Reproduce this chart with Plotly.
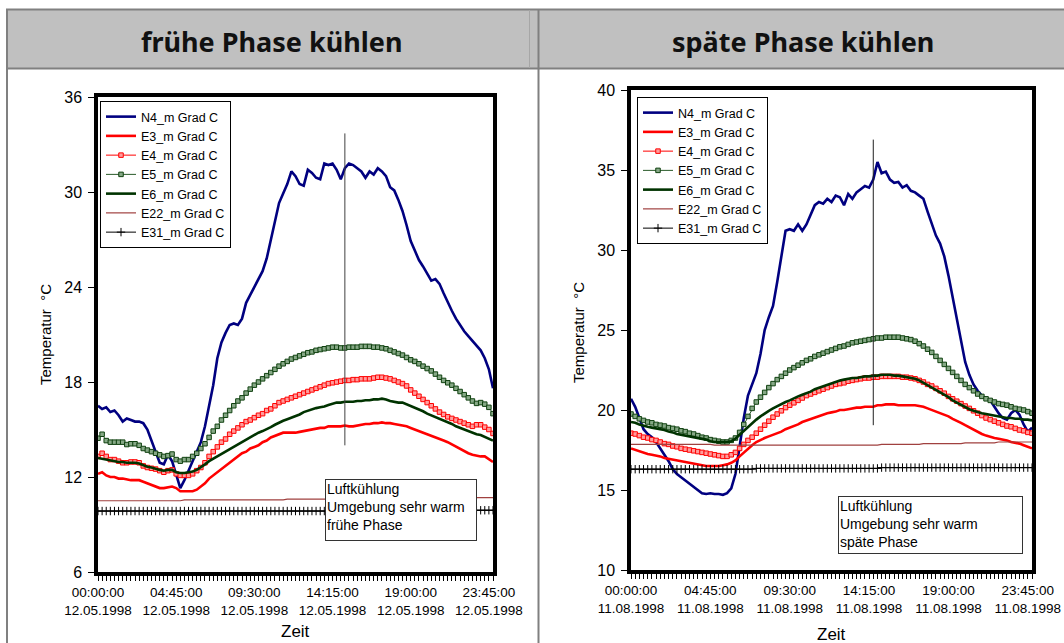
import plotly.graph_objects as go

W, H = 1064, 643

# quarter-hour steps of one day, 00:00 .. 24:00 (minutes since midnight)
minutes = [15 * i for i in range(97)]

tick_minutes = [0, 285, 570, 855, 1140, 1425]
tick_times = ["00:00:00", "04:45:00", "09:30:00", "14:15:00", "19:00:00", "23:45:00"]
date_early = "12.05.1998"
date_late = "11.08.1998"

series_names = ["N4_m Grad C", "E3_m Grad C", "E4_m Grad C", "E5_m Grad C",
                "E6_m Grad C", "E22_m Grad C", "E31_m Grad C"]

# ---- frühe Phase (12.05.1998) ----
early_N4 = [16.5, 16.3, 16.4, 16.1, 16.2, 15.9, 15.5, 15.7, 15.6, 15.5,
            15.5, 15.4, 15.0, 14.3, 13.6, 12.9, 12.8, 13.4, 13.0, 12.2,
            11.3, 11.8, 12.4, 13.0, 13.6, 14.2, 15.2, 16.5, 17.8, 19.5,
            20.5, 21.1, 21.6, 21.7, 21.6, 22.0, 23.0, 23.5, 24.0, 24.4,
            25.0, 25.8, 27.0, 28.2, 29.3, 29.9, 30.5, 31.3, 31.0, 30.5,
            30.4, 31.4, 31.2, 30.9, 30.8, 31.8, 31.7, 31.8, 31.4, 30.8,
            31.5, 31.8, 31.7, 31.5, 31.3, 30.9, 31.3, 31.1, 31.5, 31.3,
            31.0, 30.3, 30.1, 29.5, 28.8, 27.9, 26.9, 26.3, 25.7, 25.3,
            24.8, 24.4, 24.5, 24.2, 23.6, 23.0, 22.5, 22.0, 21.6, 21.2,
            20.9, 20.6, 20.3, 20.0, 19.5, 18.8, 17.6]
early_E3 = [12.2, 12.3, 12.1, 12.0, 12.0, 11.9, 11.9, 11.85, 11.8, 11.8,
            11.8, 11.7, 11.6, 11.5, 11.4, 11.3, 11.3, 11.35, 11.4, 11.3,
            11.1, 11.1, 11.1, 11.1, 11.2, 11.4, 11.6, 11.9, 12.1, 12.3,
            12.5, 12.7, 12.9, 13.1, 13.3, 13.5, 13.6, 13.8, 13.9, 14.0,
            14.2, 14.3, 14.5, 14.6, 14.7, 14.8, 14.8, 14.8, 14.8, 14.85,
            14.9, 14.95, 15.0, 15.05, 15.1, 15.1, 15.2, 15.2, 15.2, 15.2,
            15.25, 15.2, 15.2, 15.25, 15.3, 15.35, 15.35, 15.4, 15.4, 15.45,
            15.4, 15.4, 15.35, 15.3, 15.25, 15.2, 15.1, 15.0, 14.95, 14.85,
            14.75, 14.65, 14.55, 14.45, 14.3, 14.2, 14.05, 13.9, 13.75, 13.6,
            13.5, 13.4, 13.35, 13.3, 13.3, 13.15, 12.95]
early_E4 = [13.3, 13.5, 13.3, 13.1, 13.1, 13.0, 12.9, 12.9, 12.95, 12.95,
            12.9, 12.7, 12.6, 12.55, 12.5, 12.4, 12.3, 12.4, 12.45, 12.2,
            12.1, 12.1, 12.1, 12.2, 12.4, 12.6, 12.9, 13.3, 13.6, 13.9,
            14.2, 14.4, 14.7, 14.9, 15.1, 15.3, 15.5, 15.6, 15.75, 15.9,
            16.0, 16.2, 16.3, 16.5, 16.7, 16.8, 16.9, 17.0, 17.1, 17.2,
            17.3, 17.4, 17.5, 17.6, 17.7, 17.8, 17.9, 17.95, 18.0, 18.05,
            18.1, 18.1, 18.15, 18.15, 18.2, 18.2, 18.2, 18.25, 18.3, 18.3,
            18.25, 18.2, 18.1, 18.0, 17.9, 17.75, 17.5, 17.3, 17.1, 16.9,
            16.7, 16.5, 16.3, 16.1, 15.95, 15.8, 15.7, 15.6, 15.5, 15.4,
            15.3, 15.2, 15.3, 15.3, 15.15, 15.0, 14.75]
early_E5 = [14.45, 14.7, 14.3, 14.2, 14.2, 14.2, 14.2, 14.05, 14.1, 14.1,
            14.0, 13.8, 13.7, 13.6, 13.5, 13.4, 13.3, 13.35, 13.45, 13.1,
            13.0, 13.1, 13.1, 13.3, 13.5, 13.8, 14.1, 14.5, 14.9, 15.2,
            15.6, 15.9, 16.2, 16.5, 16.8, 17.0, 17.3, 17.55, 17.8, 18.0,
            18.2, 18.4, 18.6, 18.8, 19.0, 19.15, 19.3, 19.45, 19.55, 19.65,
            19.75, 19.85, 19.9, 20.0, 20.05, 20.1, 20.15, 20.2, 20.2, 20.15,
            20.15, 20.2, 20.2, 20.2, 20.25, 20.25, 20.25, 20.2, 20.2, 20.15,
            20.1, 20.0, 19.9, 19.8, 19.7, 19.55, 19.4, 19.3, 19.15, 19.0,
            18.85, 18.7, 18.5, 18.3, 18.1, 17.95, 17.8, 17.6, 17.4, 17.2,
            17.0, 16.8, 16.65, 16.7, 16.6, 16.4, 16.0]
early_E6 = [13.2, 13.15, 13.1, 13.05, 13.0, 12.95, 12.95, 12.9, 12.9, 12.9,
            12.85, 12.75, 12.65, 12.6, 12.5, 12.45, 12.4, 12.45, 12.45, 12.3,
            12.25, 12.25, 12.3, 12.35, 12.45, 12.6, 12.8, 13.0, 13.15, 13.35,
            13.5, 13.65, 13.8, 13.95, 14.1, 14.25, 14.4, 14.5, 14.65, 14.8,
            14.9, 15.0, 15.15, 15.3, 15.45, 15.55, 15.65, 15.75, 15.85, 15.95,
            16.1, 16.2, 16.3, 16.35, 16.4, 16.45, 16.55, 16.65, 16.7, 16.7,
            16.75, 16.75, 16.75, 16.8, 16.8, 16.85, 16.85, 16.9, 16.9, 16.95,
            16.9, 16.8, 16.75, 16.7, 16.7, 16.6, 16.5, 16.4, 16.3, 16.15,
            16.0, 15.9, 15.75, 15.65, 15.55, 15.45, 15.35, 15.2, 15.1, 15.0,
            14.9, 14.8, 14.7, 14.65, 14.55, 14.45, 14.3]
early_E22 = [10.5, 10.5, 10.5, 10.5, 10.5, 10.5, 10.5, 10.5, 10.5, 10.5,
             10.5, 10.5, 10.5, 10.5, 10.5, 10.5, 10.5, 10.5, 10.5, 10.5,
             10.5, 10.55, 10.55, 10.55, 10.55, 10.55, 10.55, 10.55, 10.55, 10.55,
             10.55, 10.55, 10.55, 10.55, 10.55, 10.55, 10.55, 10.55, 10.55, 10.55,
             10.55, 10.55, 10.55, 10.55, 10.55, 10.55, 10.6, 10.6, 10.6, 10.6,
             10.6, 10.6, 10.6, 10.6, 10.6, 10.6, 10.6, 10.6, 10.6, 10.6,
             10.6, 10.6, 10.6, 10.6, 10.6, 10.6, 10.6, 10.6, 10.6, 10.6,
             10.6, 10.65, 10.65, 10.65, 10.65, 10.65, 10.65, 10.65, 10.65, 10.65,
             10.65, 10.65, 10.65, 10.65, 10.65, 10.65, 10.7, 10.7, 10.7, 10.7,
             10.7, 10.7, 10.7, 10.7, 10.7, 10.7, 10.7]
early_E31 = [9.85, 9.85, 9.85, 9.85, 9.85, 9.85, 9.85, 9.85, 9.85, 9.85,
             9.85, 9.85, 9.85, 9.85, 9.85, 9.85, 9.85, 9.85, 9.85, 9.85,
             9.85, 9.85, 9.85, 9.85, 9.85, 9.85, 9.85, 9.85, 9.85, 9.85,
             9.85, 9.85, 9.85, 9.85, 9.85, 9.85, 9.85, 9.85, 9.85, 9.85,
             9.85, 9.85, 9.85, 9.85, 9.85, 9.85, 9.85, 9.85, 9.85, 9.85,
             9.85, 9.85, 9.85, 9.85, 9.85, 9.85, 9.85, 9.85, 9.85, 9.85,
             9.85, 9.85, 9.85, 9.85, 9.85, 9.85, 9.85, 9.85, 9.85, 9.85,
             9.85, 9.85, 9.85, 9.85, 9.85, 9.85, 9.85, 9.85, 9.85, 9.85,
             9.9, 9.9, 9.9, 9.9, 9.9, 9.9, 9.9, 9.9, 9.9, 9.9,
             9.9, 9.9, 9.9, 9.9, 9.9, 9.9, 9.9]

# ---- späte Phase (11.08.1998) ----
late_N4 = [20.7, 20.2, 19.5, 18.8, 18.5, 18.3, 18.0, 17.6, 17.2, 16.8,
           16.3, 16.0, 15.8, 15.6, 15.35, 15.2, 15.0, 14.8, 14.75, 14.8,
           14.75, 14.75, 14.7, 14.8, 15.1, 16.0, 17.7, 19.5, 20.9, 21.6,
           22.3, 23.5, 25.0, 25.8, 26.5, 28.0, 29.5, 31.2, 31.3, 31.2,
           31.6, 31.2, 31.6, 32.2, 32.8, 33.0, 32.9, 33.2, 33.0, 33.4,
           33.3, 32.8, 33.5, 33.2, 33.6, 33.8, 34.0, 33.9, 34.4, 35.5,
           34.8, 34.9, 34.4, 34.2, 34.25, 33.9, 34.05, 33.7, 33.6, 33.4,
           33.2, 32.4, 31.7, 30.9, 30.4, 29.6, 28.4, 27.0, 25.6, 24.3,
           23.0, 22.2, 21.6, 21.2, 20.9, 20.7, 20.6, 20.2, 19.8, 19.5,
           19.4, 19.8, 20.0, 19.7, 19.1, 18.65, 18.9]
late_E3 = [17.6, 17.5, 17.4, 17.3, 17.25, 17.2, 17.15, 17.1, 17.0, 16.95,
           16.9, 16.85, 16.8, 16.75, 16.7, 16.65, 16.6, 16.55, 16.5, 16.5,
           16.5, 16.5, 16.55, 16.6, 16.7, 16.85, 17.1, 17.35, 17.6, 17.8,
           18.0, 18.15, 18.25, 18.35, 18.45, 18.55, 18.65, 18.8, 18.9, 19.0,
           19.1, 19.25, 19.35, 19.45, 19.55, 19.65, 19.75, 19.8, 19.85, 19.9,
           20.0, 20.0, 20.05, 20.1, 20.15, 20.15, 20.2, 20.2, 20.2, 20.3,
           20.3, 20.35, 20.35, 20.35, 20.3, 20.3, 20.3, 20.3, 20.3, 20.25,
           20.2, 20.1, 20.0, 19.9, 19.85, 19.75, 19.6, 19.45, 19.35, 19.2,
           19.05, 18.9, 18.75, 18.6, 18.5, 18.4, 18.3, 18.25, 18.2, 18.15,
           18.1, 18.0, 17.95, 17.9, 17.8, 17.7, 17.6]
late_E4 = [18.55, 18.5, 18.4, 18.3, 18.25, 18.15, 18.1, 18.0, 17.9, 17.85,
           17.75, 17.7, 17.6, 17.55, 17.5, 17.45, 17.4, 17.35, 17.3, 17.25,
           17.2, 17.15, 17.1, 17.1, 17.2, 17.35, 17.6, 17.85, 18.1, 18.3,
           18.55, 18.8, 19.05, 19.3, 19.55, 19.75, 19.95, 20.15, 20.3, 20.45,
           20.6, 20.75, 20.9, 21.0, 21.1, 21.2, 21.3, 21.4, 21.5, 21.6,
           21.65, 21.7, 21.8, 21.85, 21.9, 21.95, 22.0, 22.0, 22.05, 22.05,
           22.1, 22.1, 22.1, 22.1, 22.1, 22.05, 22.05, 22.0, 21.95, 21.85,
           21.75, 21.6, 21.5, 21.35, 21.2, 21.05, 20.85, 20.7, 20.55, 20.4,
           20.25, 20.1, 19.95, 19.8, 19.65, 19.5, 19.4, 19.3, 19.2, 19.1,
           19.0, 18.95, 18.85, 18.75, 18.7, 18.6, 18.55]
late_E5 = [19.75, 19.6, 19.45, 19.35, 19.25, 19.2, 19.1, 19.05, 19.0, 18.9,
           18.85, 18.8, 18.7, 18.65, 18.55, 18.5, 18.4, 18.3, 18.25, 18.15,
           18.1, 18.05, 18.0, 18.0, 18.1, 18.25, 18.6, 19.1, 19.6, 20.1,
           20.5, 20.8, 21.1, 21.4, 21.65, 21.9, 22.1, 22.3, 22.5, 22.65,
           22.8, 22.95, 23.1, 23.2, 23.35, 23.45, 23.55, 23.65, 23.75, 23.85,
           23.95, 24.0, 24.1, 24.2, 24.25, 24.3, 24.35, 24.4, 24.45, 24.5,
           24.5, 24.55, 24.55, 24.55, 24.55, 24.5, 24.45, 24.4, 24.3, 24.15,
           24.0, 23.8, 23.6, 23.35, 23.1, 22.85, 22.6, 22.35, 22.1, 21.85,
           21.6, 21.4, 21.2, 21.0, 20.85, 20.7, 20.6, 20.5, 20.4, 20.35,
           20.3, 20.2, 20.1, 20.05, 20.0, 19.9, 19.8]
late_E6 = [19.25, 19.2, 19.1, 19.0, 18.95, 18.9, 18.85, 18.8, 18.75, 18.65,
           18.6, 18.5, 18.45, 18.4, 18.35, 18.3, 18.25, 18.2, 18.15, 18.05,
           18.0, 18.0, 18.0, 18.0, 18.05, 18.2, 18.45, 18.7, 18.95, 19.2,
           19.4, 19.6, 19.8, 19.95, 20.1, 20.25, 20.4, 20.5, 20.6, 20.75,
           20.85, 20.95, 21.05, 21.15, 21.3, 21.4, 21.5, 21.6, 21.7, 21.8,
           21.85, 21.9, 21.95, 22.0, 22.0, 22.05, 22.1, 22.1, 22.15, 22.15,
           22.2, 22.2, 22.2, 22.15, 22.15, 22.1, 22.05, 22.0, 21.95, 21.85,
           21.7, 21.6, 21.45, 21.3, 21.15, 20.95, 20.8, 20.6, 20.45, 20.3,
           20.15, 20.05, 19.95, 19.85, 19.8, 19.75, 19.7, 19.65, 19.6, 19.55,
           19.5, 19.5, 19.45, 19.45, 19.4, 19.4, 19.35]
late_E22 = [17.85, 17.85, 17.85, 17.85, 17.85, 17.85, 17.85, 17.85, 17.85, 17.85,
            17.85, 17.85, 17.85, 17.85, 17.85, 17.85, 17.85, 17.85, 17.85, 17.85,
            17.8, 17.8, 17.8, 17.8, 17.8, 17.8, 17.8, 17.8, 17.8, 17.8,
            17.8, 17.8, 17.8, 17.8, 17.8, 17.8, 17.8, 17.8, 17.8, 17.8,
            17.8, 17.8, 17.8, 17.8, 17.8, 17.8, 17.8, 17.8, 17.8, 17.8,
            17.8, 17.8, 17.8, 17.8, 17.8, 17.8, 17.8, 17.8, 17.8, 17.8,
            17.85, 17.85, 17.85, 17.85, 17.85, 17.85, 17.85, 17.85, 17.85, 17.85,
            17.9, 17.9, 17.9, 17.9, 17.9, 17.9, 17.9, 17.9, 17.9, 17.9,
            17.95, 17.95, 17.95, 17.95, 17.95, 17.95, 17.95, 17.95, 18.0, 18.0,
            18.0, 18.0, 18.0, 18.0, 18.0, 18.0, 18.0]
late_E31 = [16.3, 16.3, 16.3, 16.3, 16.3, 16.3, 16.3, 16.3, 16.3, 16.3,
            16.3, 16.3, 16.3, 16.3, 16.3, 16.3, 16.3, 16.3, 16.3, 16.3,
            16.3, 16.3, 16.3, 16.3, 16.3, 16.3, 16.3, 16.3, 16.3, 16.3,
            16.35, 16.35, 16.35, 16.35, 16.35, 16.35, 16.35, 16.35, 16.35, 16.35,
            16.35, 16.35, 16.35, 16.35, 16.35, 16.35, 16.35, 16.35, 16.35, 16.35,
            16.35, 16.35, 16.35, 16.35, 16.35, 16.35, 16.35, 16.35, 16.35, 16.35,
            16.4, 16.4, 16.4, 16.4, 16.4, 16.4, 16.4, 16.4, 16.4, 16.4,
            16.4, 16.4, 16.4, 16.4, 16.4, 16.4, 16.4, 16.4, 16.4, 16.4,
            16.4, 16.4, 16.4, 16.4, 16.4, 16.4, 16.4, 16.4, 16.4, 16.4,
            16.4, 16.4, 16.4, 16.4, 16.4, 16.4, 16.4]

FONT = "Liberation Sans, Arial, sans-serif"


def px(x):
    return x / W


def py(y):
    return 1 - y / H


styles = [
    dict(mode="lines", line=dict(color="#000080", width=2.6)),
    dict(mode="lines", line=dict(color="#ff0000", width=2.6)),
    dict(mode="lines+markers", line=dict(color="#ff0000", width=1),
         marker=dict(symbol="square", size=4.5, color="#ff9c9c",
                     line=dict(color="#ff0000", width=1))),
    dict(mode="lines+markers", line=dict(color="#2a5a2a", width=1),
         marker=dict(symbol="square", size=4.5, color="#86a886",
                     line=dict(color="#0f400f", width=1))),
    dict(mode="lines", line=dict(color="#003300", width=2.6)),
    dict(mode="lines", line=dict(color="#a0403f", width=1.2)),
    dict(mode="lines+markers", line=dict(color="#000000", width=1),
         marker=dict(symbol="cross-thin", size=6,
                     line=dict(color="#000000", width=1))),
]

fig = go.Figure()

panels = [
    dict(series=[early_N4, early_E3, early_E4, early_E5, early_E6, early_E22, early_E31],
         xa="x", ya="y", legend="legend"),
    dict(series=[late_N4, late_E3, late_E4, late_E5, late_E6, late_E22, late_E31],
         xa="x2", ya="y2", legend="legend2"),
]

for p in panels:
    for name, vals, st in zip(series_names, p["series"], styles):
        fig.add_trace(go.Scatter(x=minutes, y=vals, name=name, xaxis=p["xa"],
                                 yaxis=p["ya"], legend=p["legend"], **st))


def xtext(date):
    lab = dict(zip(tick_minutes, tick_times))
    return [f"{lab[m]}<br>{date}" if m in lab else "" for m in minutes]


axis_common = dict(showline=True, mirror=True, linewidth=3.5, linecolor="black",
                   showgrid=False, zeroline=False, ticks="outside",
                   tickcolor="black", tickwidth=1, automargin=False)

fig.update_layout(
    template="none",
    width=W, height=H, autosize=False,
    margin=dict(l=0, r=0, t=0, b=0, pad=0),
    paper_bgcolor="white", plot_bgcolor="white",
    font=dict(family=FONT, color="black"),
    showlegend=True,
    xaxis=dict(domain=[px(98), px(493)], range=[0, 1440], anchor="y",
               tickmode="array", tickvals=minutes, ticktext=xtext(date_early),
               ticklen=5, tickfont=dict(size=13.5), tickangle=0, **axis_common),
    yaxis=dict(domain=[py(572), py(97)], range=[6, 36], anchor="x",
               tickmode="linear", tick0=6, dtick=6, ticklen=6,
               ticklabelstandoff=3, tickfont=dict(size=16), **axis_common),
    xaxis2=dict(domain=[px(631), px(1032)], range=[0, 1440], anchor="y2",
                tickmode="array", tickvals=minutes, ticktext=xtext(date_late),
                ticklen=5, tickfont=dict(size=13.5), tickangle=0, **axis_common),
    yaxis2=dict(domain=[py(570), py(90)], range=[10, 40], anchor="x2",
                tickmode="linear", tick0=10, dtick=5, ticklen=6,
                ticklabelstandoff=3, tickfont=dict(size=16), **axis_common),
    legend=dict(x=px(100), y=py(101), xanchor="left", yanchor="top",
                bgcolor="white", bordercolor="black", borderwidth=1,
                font=dict(size=12.5, family=FONT), tracegroupgap=0,
                itemwidth=30),
    legend2=dict(x=px(637), y=py(97), xanchor="left", yanchor="top",
                 bgcolor="white", bordercolor="black", borderwidth=1,
                 font=dict(size=12.5, family=FONT), tracegroupgap=0,
                 itemwidth=30),
)

GRID = "#808080"
shapes = [
    # header band
    dict(type="rect", xref="paper", yref="paper", x0=px(7), x1=1, y0=py(68), y1=py(10),
         fillcolor="#c0c0c0", line=dict(width=0), layer="below"),
    dict(type="line", xref="paper", yref="paper", x0=px(6), x1=1, y0=py(9.5), y1=py(9.5),
         line=dict(color=GRID, width=2)),
    dict(type="line", xref="paper", yref="paper", x0=px(6), x1=1, y0=py(68.5), y1=py(68.5),
         line=dict(color=GRID, width=2)),
    dict(type="line", xref="paper", yref="paper", x0=px(7), x1=px(7), y0=py(9), y1=0,
         line=dict(color=GRID, width=2)),
    dict(type="line", xref="paper", yref="paper", x0=px(538.5), x1=px(538.5), y0=py(9), y1=0,
         line=dict(color=GRID, width=2)),
    dict(type="line", xref="paper", yref="paper", x0=px(529.5), x1=px(529.5), y0=py(10), y1=py(68),
         line=dict(color="#a6a6a6", width=1)),
    # time markers
    dict(type="line", xref="x", yref="y", x0=900, x1=900, y0=14.0, y1=33.7,
         line=dict(color="#404040", width=1)),
    dict(type="line", xref="x2", yref="y2", x0=870, x1=870, y0=19.05, y1=36.9,
         line=dict(color="#202020", width=1)),
]

annotations = [
    dict(text="<b>frühe Phase kühlen</b>", x=px(272), y=py(41), xref="paper", yref="paper",
         showarrow=False, font=dict(family="Noto Sans", size=27, color="#111111"),
         xanchor="center", yanchor="middle"),
    dict(text="<b>späte Phase kühlen</b>", x=px(803), y=py(41), xref="paper", yref="paper",
         showarrow=False, font=dict(family="Noto Sans", size=27, color="#111111"),
         xanchor="center", yanchor="middle"),
    dict(text="Zeit", x=px(295), y=py(631), xref="paper", yref="paper", showarrow=False,
         font=dict(size=17), xanchor="center", yanchor="middle"),
    dict(text="Zeit", x=px(831), y=py(634), xref="paper", yref="paper", showarrow=False,
         font=dict(size=17), xanchor="center", yanchor="middle"),
    dict(text="Temperatur  °C", x=px(45), y=py(335), xref="paper", yref="paper",
         showarrow=False, textangle=-90, font=dict(size=15),
         xanchor="center", yanchor="middle"),
    dict(text="Temperatur  °C", x=px(578), y=py(333), xref="paper", yref="paper",
         showarrow=False, textangle=-90, font=dict(size=15),
         xanchor="center", yanchor="middle"),
    dict(text="Luftkühlung<br>Umgebung sehr warm<br>frühe Phase", x=px(325), y=py(479),
         xref="paper", yref="paper", showarrow=False, align="left", valign="top",
         xanchor="left", yanchor="top", width=148, height=58, borderpad=1,
         bordercolor="#333333", borderwidth=1, bgcolor="white",
         font=dict(size=14)),
    dict(text="Luftkühlung<br>Umgebung sehr warm<br>späte Phase", x=px(838), y=py(496),
         xref="paper", yref="paper", showarrow=False, align="left", valign="top",
         xanchor="left", yanchor="top", width=181, height=54, borderpad=1,
         bordercolor="#333333", borderwidth=1, bgcolor="white",
         font=dict(size=14)),
]

fig.update_layout(shapes=shapes, annotations=annotations)

fig.write_html("out.html")
